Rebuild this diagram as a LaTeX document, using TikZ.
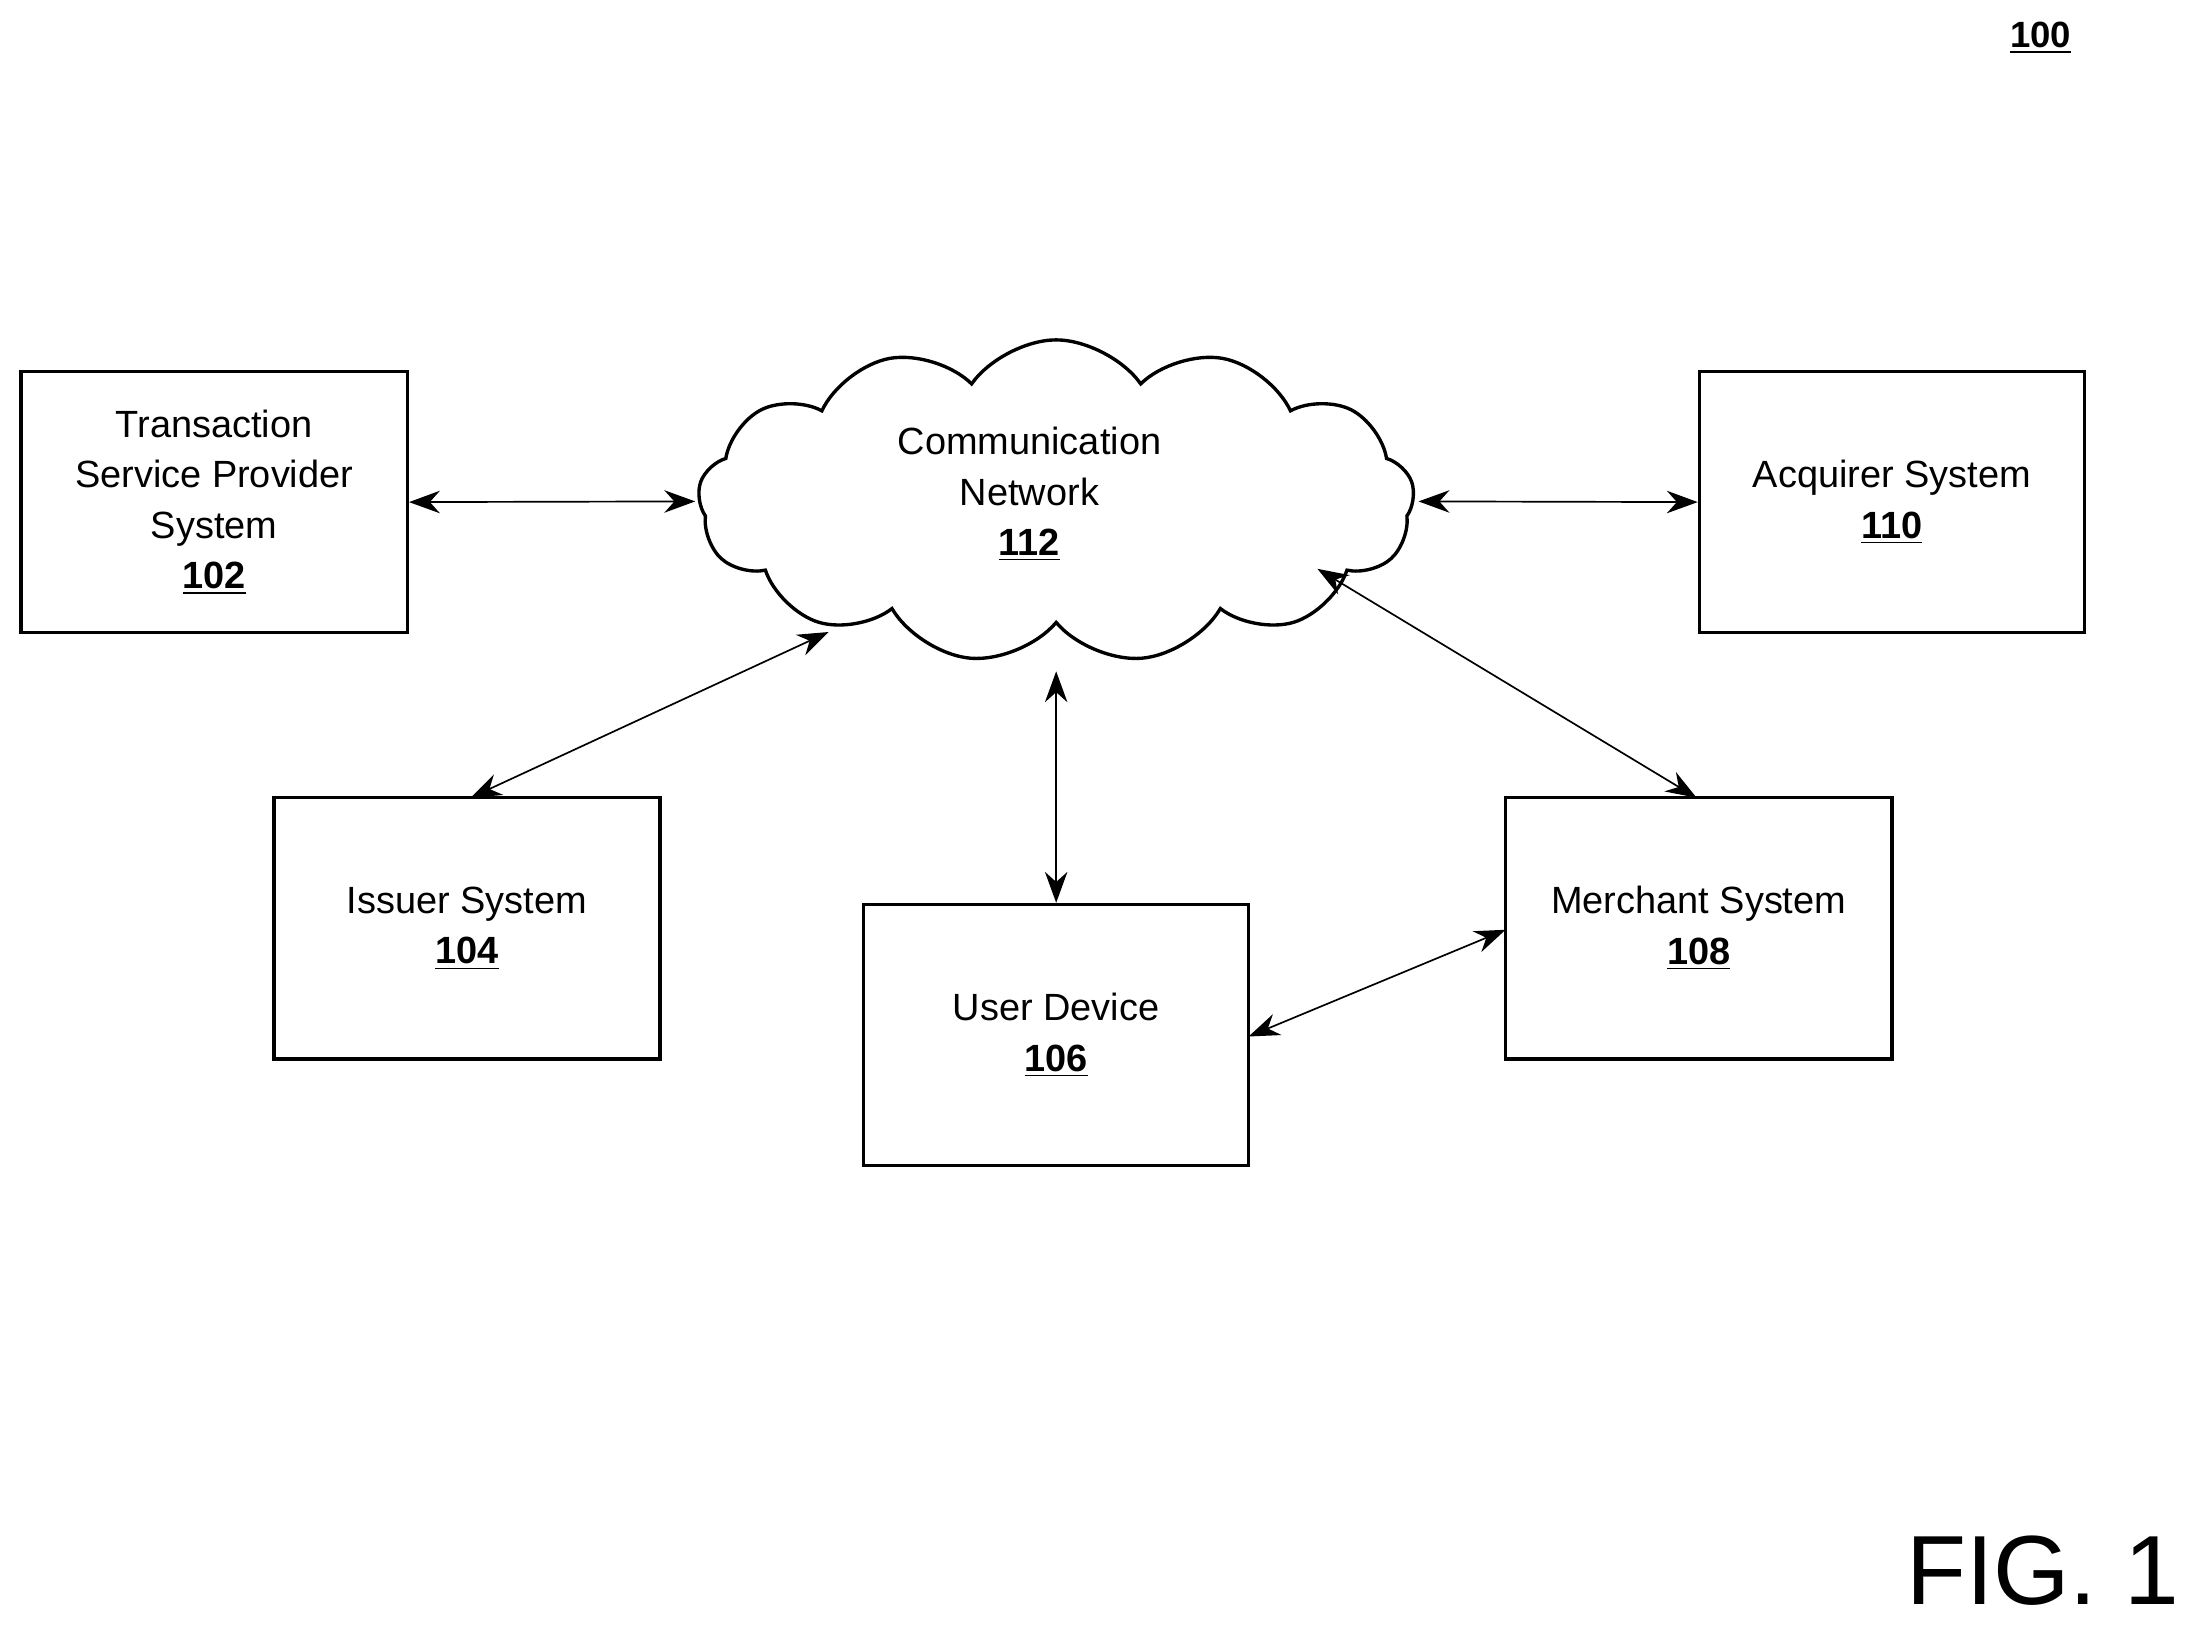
\documentclass[tikz,border=0pt]{standalone}
\usepackage{fontspec}
\setmainfont{Liberation Sans}
\usetikzlibrary{shapes.symbols,arrows.meta}
\begin{document}
\begin{tikzpicture}[x=0.5pt,y=-0.5pt,
 box/.style={draw,line width=1.2pt,inner sep=0pt,align=center,font=\fontsize{13.5}{18}\selectfont},
 arr/.style={{Stealth[length=11pt,width=8pt]}-{Stealth[length=11pt,width=8pt]},line width=0.6pt}]
\useasboundingbox (0,0) rectangle (1560,1160);
\node[box,minimum width=137.5pt,minimum height=93pt] (tsp) at (152.5,357.5) {Transaction\\Service Provider\\System\\\textbf{\underline{102}}};
\node[box,minimum width=137pt,minimum height=93pt] (acq) at (1347,357.5) {Acquirer System\\\textbf{\underline{110}}};
\node[box,minimum width=137.5pt,minimum height=93pt] (iss) at (332.5,661) {Issuer System\\\textbf{\underline{104}}};
\node[box,minimum width=137pt,minimum height=93pt] (usr) at (752,737) {User Device\\\textbf{\underline{106}}};
\node[box,minimum width=137.5pt,minimum height=93pt] (mer) at (1209.5,661) {Merchant System\\\textbf{\underline{108}}};
\node[draw,cloud,cloud puffs=13,cloud puff arc=110,aspect=2.2,line width=1.2pt,minimum width=255pt,minimum height=115pt] (net) at (752,357) {};
\node[font=\fontsize{13.5}{18}\selectfont,align=center] (netl) at (733,352) {Communication\\Network\\\textbf{\underline{112}}};
\node[font=\fontsize{13}{16}\selectfont\bfseries] (n100) at (1453,27) {\underline{100}};
\node[font=\fontsize{35}{40}\selectfont,anchor=east,inner sep=0pt] (fig) at (1552,1118) {FIG. 1};
\coordinate (c1) at (495,357);
\coordinate (c2) at (1010,357);
\coordinate (c3) at (590,450);
\coordinate (c4) at (752,478);
\coordinate (c5) at (938,405);
\coordinate (i1) at (335,568);
\coordinate (m1) at (1208,568);
\draw[arr] (tsp.east) -- (c1);
\draw[arr] (c2) -- (acq.west);
\draw[arr] (i1) -- (c3);
\draw[arr] (c4) -- (usr.north);
\draw[arr] (c5) -- (m1);
\draw[arr] (889,738) -- (1072,662);
\end{tikzpicture}
\end{document}
